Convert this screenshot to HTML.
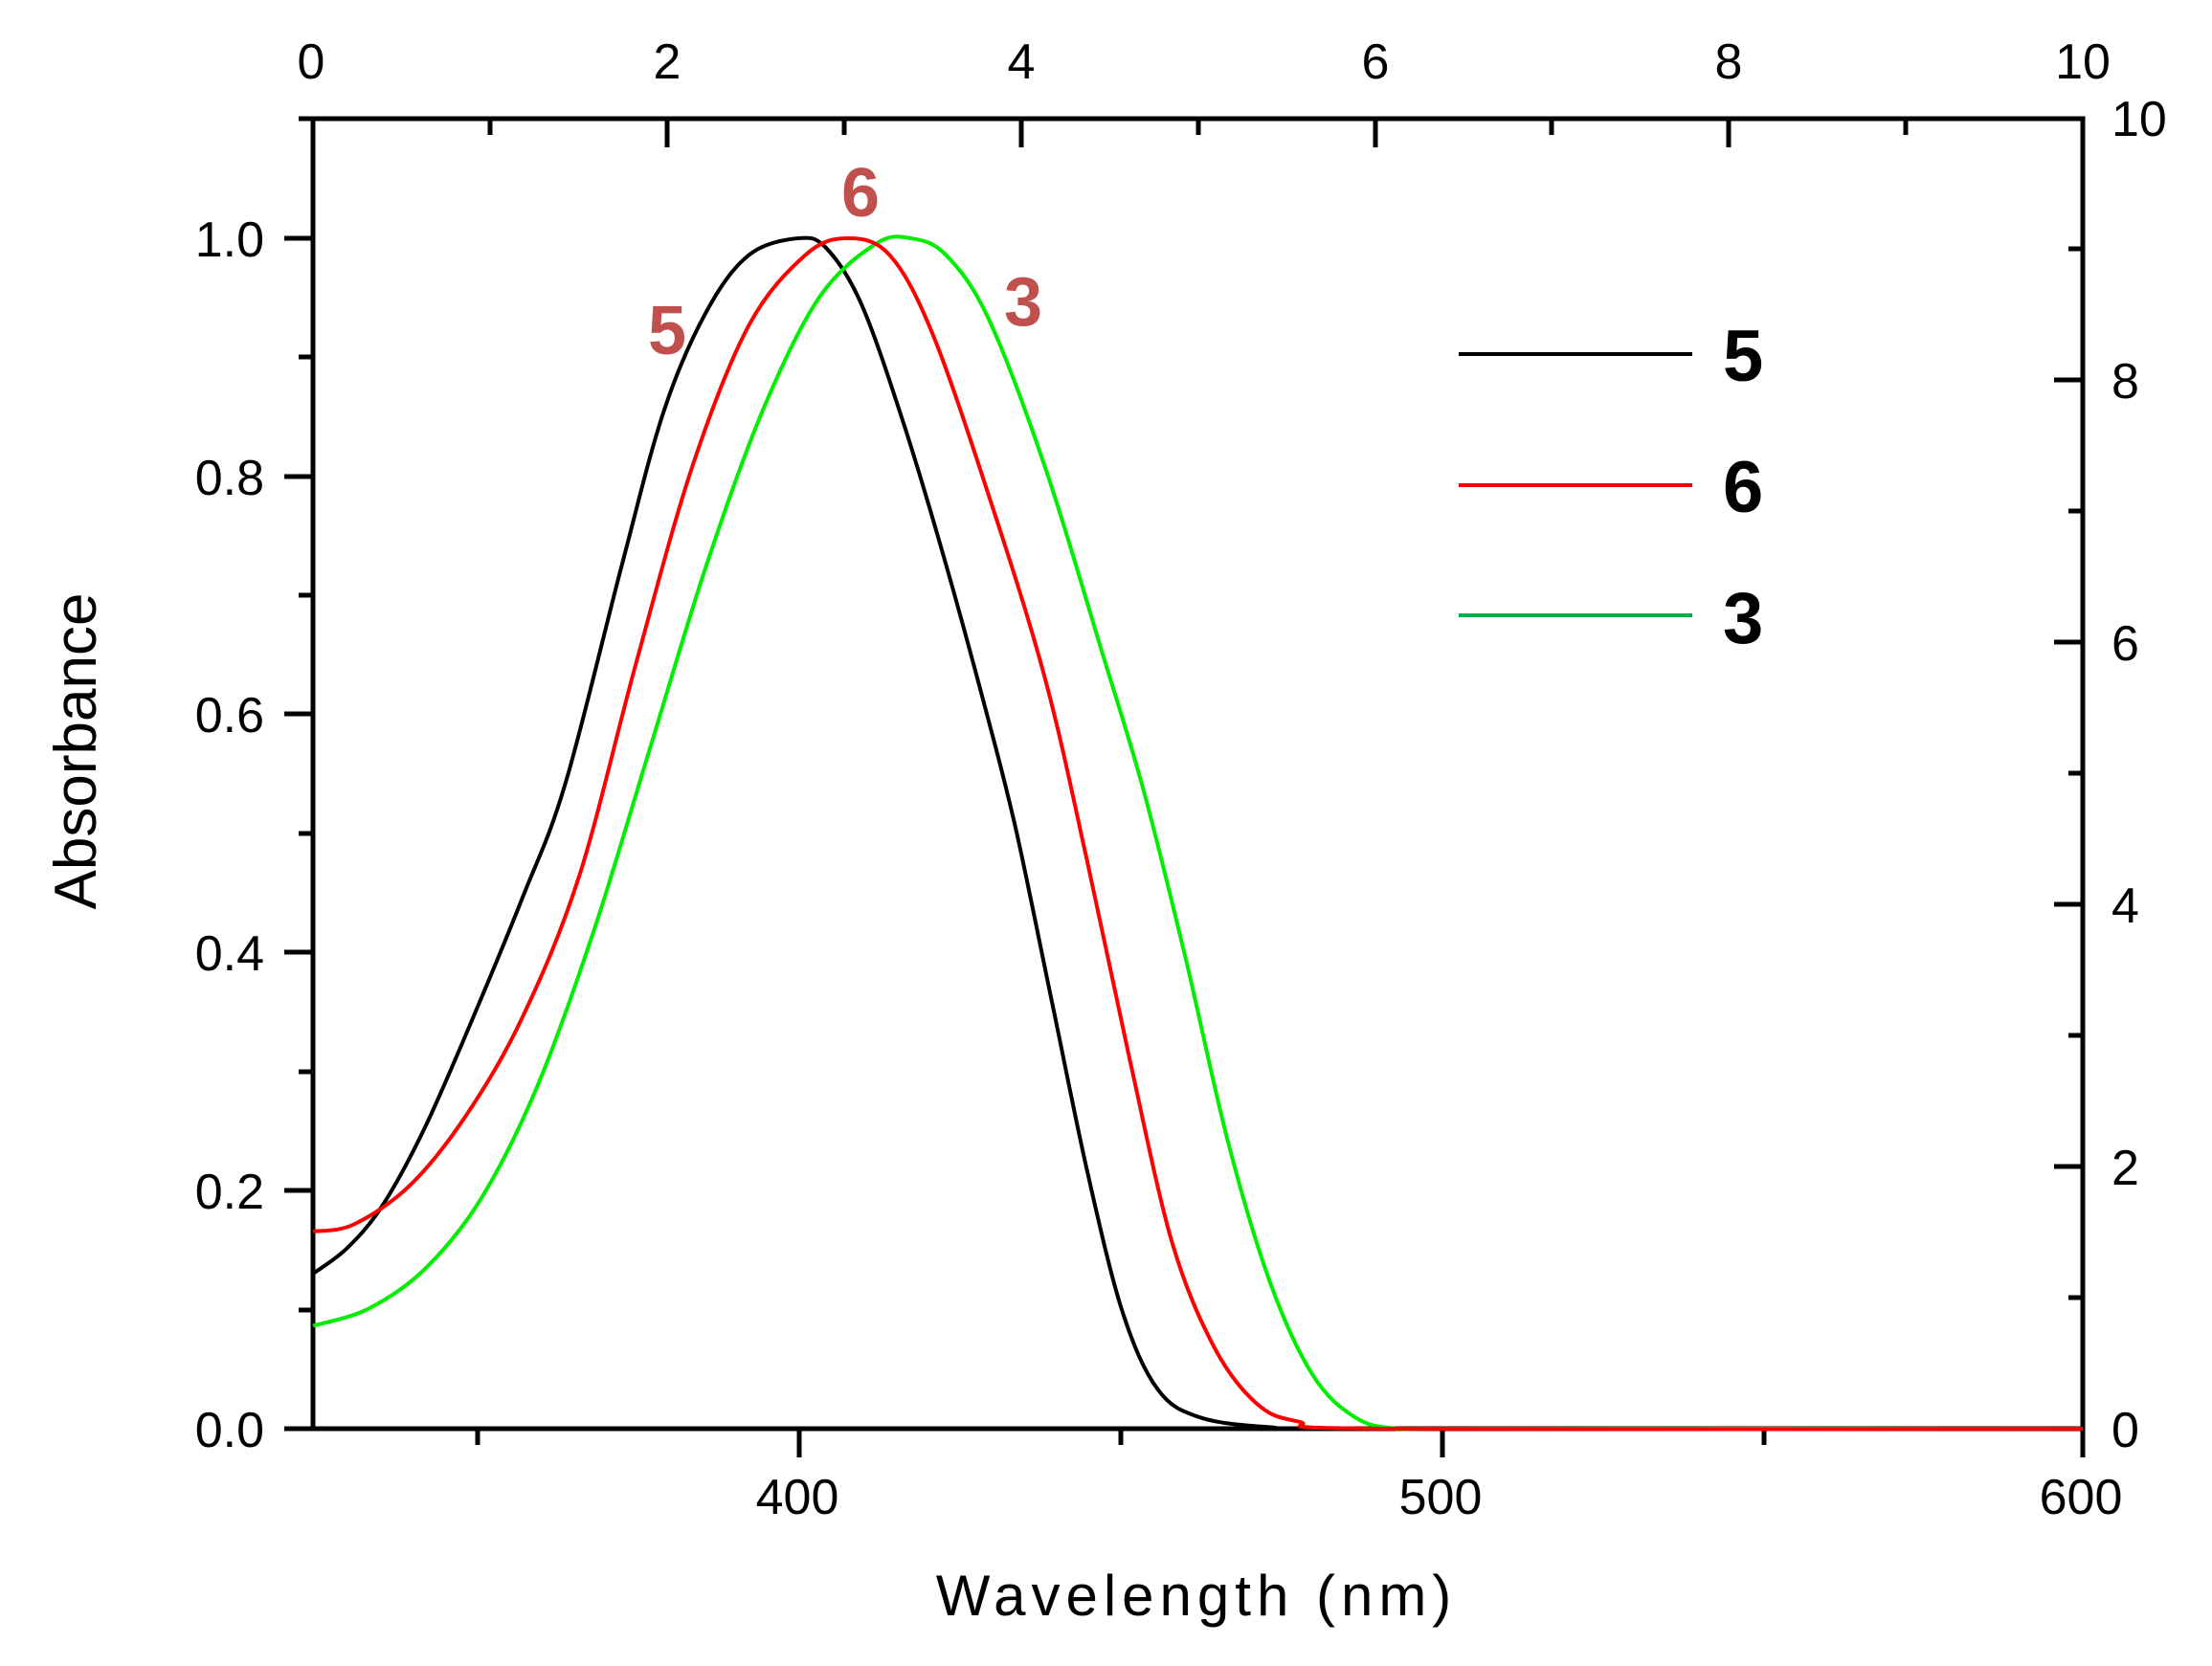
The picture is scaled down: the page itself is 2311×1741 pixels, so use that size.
<!DOCTYPE html>
<html><head><meta charset="utf-8"><style>
html,body{margin:0;padding:0;background:#fff;}
svg{display:block;}
text{font-family:"Liberation Sans",sans-serif;}
</style></head><body>
<svg id="s" width="2311" height="1741" viewBox="0 0 2311 1741" xmlns="http://www.w3.org/2000/svg">
<g stroke="#000" stroke-width="5" fill="none">
<rect x="327" y="124" width="1849" height="1369"/>
<path d="M327 1493H297M327 1244H297M327 995H297M327 746H297M327 498H297M327 249H297 M327 1369H312M327 1120H312M327 871H312M327 622H312M327 373H312M327 124H312"/>
<path d="M835 1493V1523M1507 1493V1523M2176 1493V1523M499 1493V1510M1171 1493V1510M1843 1493V1510"/>
<path d="M697 124V154M1067 124V154M1437 124V154M1806 124V154M512 124V141M882 124V141M1252 124V141M1621 124V141M1991 124V141"/>
<path d="M2176 1219H2146M2176 945H2146M2176 671H2146M2176 397H2146M2176 1356H2161M2176 1082H2161M2176 808H2161M2176 534H2161M2176 260H2161"/>
</g>
<g font-size="52" fill="#000">
<g text-anchor="end">
<text x="276" y="1512">0.0</text><text x="276" y="1263">0.2</text><text x="276" y="1014">0.4</text>
<text x="276" y="765">0.6</text><text x="276" y="517">0.8</text><text x="276" y="268">1.0</text>
</g>
<g text-anchor="middle">
<text x="833" y="1582">400</text><text x="1505" y="1582">500</text><text x="2174" y="1582">600</text>
<text x="325" y="82">0</text><text x="697" y="82">2</text><text x="1067" y="82">4</text>
<text x="1437" y="82">6</text><text x="1806" y="82">8</text><text x="2176" y="82">10</text>
</g>
<text x="2206" y="1512">0</text><text x="2206" y="1238">2</text><text x="2206" y="964">4</text>
<text x="2206" y="690">6</text><text x="2206" y="416">8</text><text x="2206" y="142">10</text>
</g>
<text x="1250" y="1688" font-size="60" text-anchor="middle" letter-spacing="6">Wavelength (nm)</text>
<text transform="translate(100,785) rotate(-90)" font-size="62" text-anchor="middle">Absorbance</text>
<g font-weight="bold" font-size="72" fill="#c0504d" text-anchor="middle">
<text x="697" y="370">5</text><text x="899" y="226">6</text><text x="1069" y="340">3</text>
</g>
<g stroke-width="4">
<line x1="1524" y1="370" x2="1768" y2="370" stroke="#000"/>
<line x1="1524" y1="507" x2="1768" y2="507" stroke="#f00"/>
<line x1="1524" y1="643" x2="1768" y2="643" stroke="#00b050"/>
</g>
<g font-weight="bold" font-size="76" fill="#000">
<text x="1800" y="398">5</text><text x="1800" y="535">6</text><text x="1800" y="672">3</text>
</g>
<g id="curves" fill="none" stroke-width="4" stroke-linejoin="round"></g>
</svg>
<script>
var data={
"#000":[[221,903],[245,885],[270,855],[300,800],[335,720],[370,635],[400,555],[440,400],[470,290],[500,220],[530,180],[565,168],[585,175],[610,215],[640,300],[670,400],[700,510],[720,590],[745,710],[770,830],[795,930],[820,985],[850,1005],[900,1012],[960,1013],[1476,1013]],
"#00ee00":[[221,940],[260,928],[300,900],[340,850],[380,770],[420,660],[460,530],[500,400],[540,290],[580,210],[620,172],[645,168],[670,180],[700,225],[740,330],[780,460],[810,560],[840,680],[870,810],[900,910],[930,975],[960,1005],[990,1013],[1040,1013],[1476,1013]],
"#f00":[[221,873],[250,868],[290,840],[330,790],[370,720],[410,620],[450,470],[490,330],[530,230],[570,180],[600,168],[630,180],[660,235],[700,350],[740,480],[770,610],[800,750],[830,880],[860,955],[890,995],[920,1008],[980,1013],[1476,1013]]
};
function tx(p){return [327+(p[0]-221)*1.4733,1493-(1013-p[1])*1.4722];}
var g=document.getElementById('curves'),NS="http://www.w3.org/2000/svg";
for(var c in data){var pts=data[c].map(tx);var d="M"+pts[0][0].toFixed(1)+" "+pts[0][1].toFixed(1);
for(var i=0;i<pts.length-1;i++){var p0=pts[Math.max(i-1,0)],p1=pts[i],p2=pts[i+1],p3=pts[Math.min(i+2,pts.length-1)];
var c1=[p1[0]+(p2[0]-p0[0])/6,p1[1]+(p2[1]-p0[1])/6],c2=[p2[0]-(p3[0]-p1[0])/6,p2[1]-(p3[1]-p1[1])/6];
d+="C"+c1[0].toFixed(1)+" "+c1[1].toFixed(1)+" "+c2[0].toFixed(1)+" "+c2[1].toFixed(1)+" "+p2[0].toFixed(1)+" "+p2[1].toFixed(1);}
var e=document.createElementNS(NS,"path");e.setAttribute("d",d);e.setAttribute("stroke",c);g.appendChild(e);}
</script>
</body></html>
